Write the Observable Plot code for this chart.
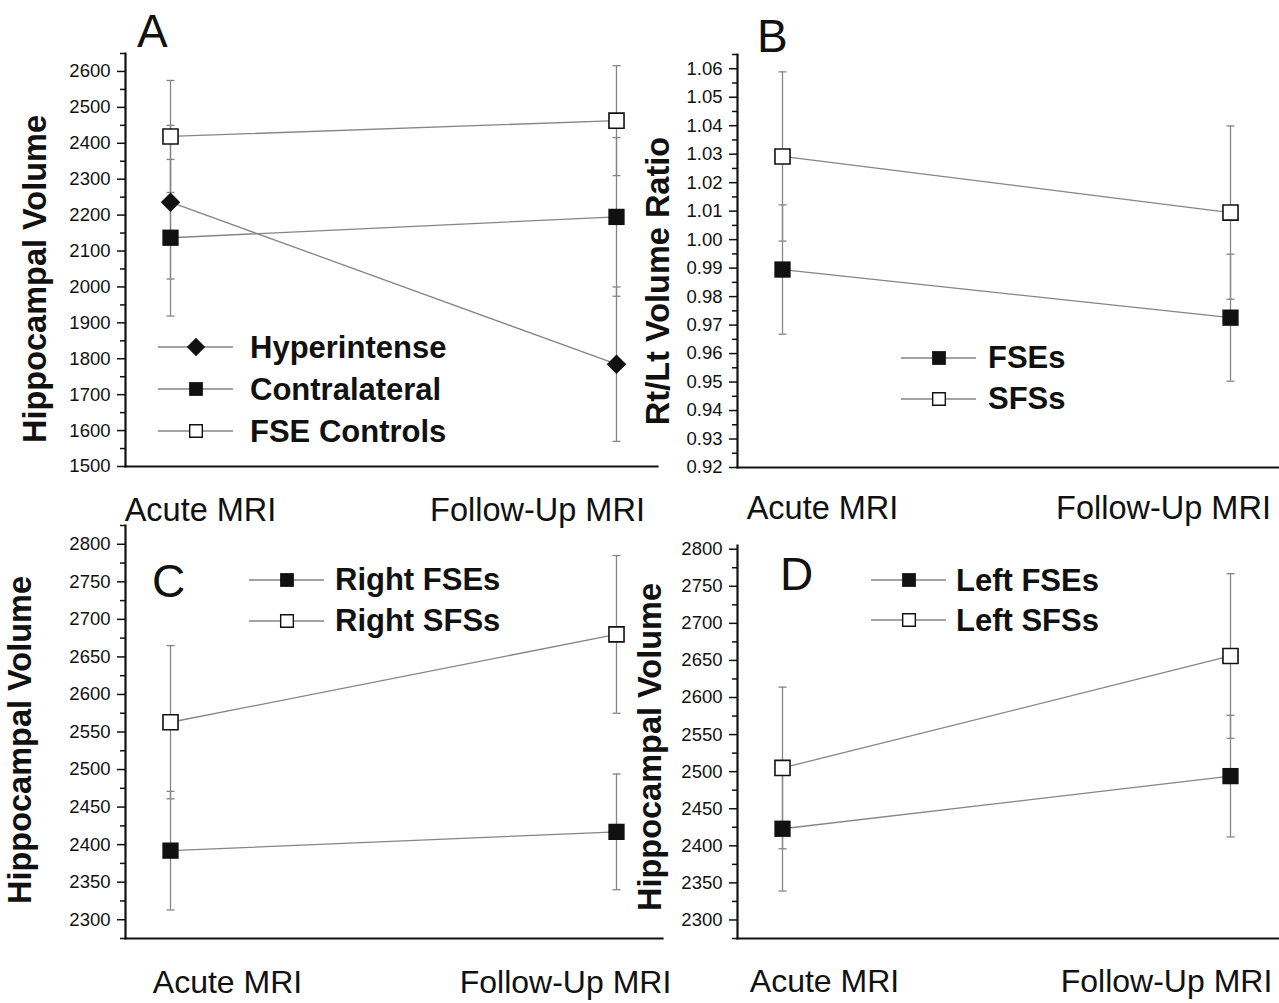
<!DOCTYPE html>
<html>
<head>
<meta charset="utf-8">
<script src="https://cdn.jsdelivr.net/npm/d3@7"></script>
<script src="https://cdn.jsdelivr.net/npm/@observablehq/plot@0.6"></script>
<style>
html, body { margin: 0; padding: 0; background: #fff; }
#root { position: relative; width: 1279px; height: 1003px; overflow: hidden;
  font-family: "Liberation Sans", Arial, Helvetica, sans-serif; color: #111; }
.panel { position: absolute; }
.ylab { position: absolute; font-weight: bold; font-size: 32.5px; line-height: 1; white-space: nowrap;
  transform: translate(-50%, -50%) rotate(-90deg); }
.letter { position: absolute; font-size: 46px; line-height: 1; }
.legend { position: absolute; }
.legrow { display: flex; align-items: center; }
.legrow svg { display: block; flex: none; }
.legrow span { font-weight: bold; font-size: 31px; line-height: 1; white-space: nowrap; }
</style>
</head>
<body>
<div id="root"></div>
<script>
// ---------- data ----------
const timepoints = ["Acute MRI", "Follow-Up MRI"];

// Panel A
const aSeries = ["Hyperintense", "Contralateral", "FSE Controls"];
const aHyperMean = [2236, 1785];
const aHyperErr = [214, 215];
const aContraMean = [2137, 2195];
const aContraErr = [218, 221];
const aControlMean = [2419, 2463];
const aControlErr = [156, 153];
const aTicks = [1500, 1600, 1700, 1800, 1900, 2000, 2100, 2200, 2300, 2400, 2500, 2600];

// Panel B
const bSeries = ["FSEs", "SFSs"];
const bFseMean = [0.9895, 0.9726];
const bFseErr = [0.0227, 0.0223];
const bSfsMean = [1.0292, 1.0095];
const bSfsErr = [0.0297, 0.0304];
const bTicks = [0.92, 0.93, 0.94, 0.95, 0.96, 0.97, 0.98, 0.99, 1.00, 1.01, 1.02, 1.03, 1.04, 1.05, 1.06];

// Panel C
const cSeries = ["Right FSEs", "Right SFSs"];
const cFseMean = [2392, 2417];
const cFseErr = [79, 77];
const cSfsMean = [2563, 2680];
const cSfsErr = [102, 105];

// Panel D
const dSeries = ["Left FSEs", "Left SFSs"];
const dFseMean = [2423, 2494];
const dFseErr = [84, 82];
const dSfsMean = [2505, 2656];
const dSfsErr = [109, 111];

const cdTicks = [2300, 2350, 2400, 2450, 2500, 2550, 2600, 2650, 2700, 2750, 2800];

// ---------- helpers ----------
const GRAY = "#858585";
const INK = "#111";
const root = document.getElementById("root");

function rows(series, means, errs) {
  return timepoints.map((t, i) => ({series, time: t, mean: means[i], err: errs[i]}));
}
function minorTicks(major, half, domain) {
  const out = major.map(v => v + half);
  out.unshift(major[0] - half);
  const eps = half * 1e-6;
  return out.filter(v => v >= domain[0] - eps && v <= domain[1] + eps);
}
const capSymbol = {
  draw(ctx, size) {
    const w = Math.sqrt(size / Math.PI);
    ctx.moveTo(-w, 0);
    ctx.lineTo(w, 0);
  }
};
function markerMarks(data, kind, r) {
  if (kind === "diamond")
    return Plot.dot(data, {x: "time", y: "mean", symbol: "diamond2", r: r.diamond, fill: INK, stroke: "none"});
  if (kind === "filled")
    return Plot.dot(data, {x: "time", y: "mean", symbol: "square", r: r.filled, fill: INK, stroke: "none"});
  return Plot.dot(data, {x: "time", y: "mean", symbol: "square", r: r.open, fill: "white", stroke: INK, strokeWidth: 1.6});
}

function panel(cfg) {
  const all = cfg.groups.flatMap(g => g.data);
  const r = {diamond: 8.8, filled: 9.2, open: 8.5};
  const marks = [
    Plot.line(all, {x: "time", y: "mean", z: "series", stroke: GRAY, strokeWidth: 1.3}),
    Plot.ruleX(all, {x: "time", y1: d => d.mean - d.err, y2: d => d.mean + d.err, stroke: GRAY, strokeWidth: 1.3}),
    Plot.dot(all, {x: "time", y: d => d.mean + d.err, symbol: capSymbol, r: 4, fill: "none", stroke: GRAY, strokeWidth: 1.3}),
    Plot.dot(all, {x: "time", y: d => d.mean - d.err, symbol: capSymbol, r: 4, fill: "none", stroke: GRAY, strokeWidth: 1.3}),
    ...cfg.groups.map(g => markerMarks(g.data, g.kind, r)),
    Plot.axisY(minorTicks(cfg.major, cfg.half, cfg.domain), {tickSize: 5, tickFormat: () => "", label: null, color: INK, strokeWidth: 1.5}),
    Plot.axisY(cfg.major, {tickSize: 8, tickPadding: 7, tickFormat: cfg.fmt, label: null, color: INK,
      strokeWidth: 1.5, fontSize: 18.5}),
    Plot.axisX([timepoints[0]], {tickSize: 0, tickPadding: cfg.labelPad, dx: cfg.dx[0], label: null,
      fontSize: cfg.xFont, color: INK}),
    Plot.axisX([timepoints[1]], {tickSize: 0, tickPadding: cfg.labelPad, dx: cfg.dx[1], label: null,
      fontSize: cfg.xFont, color: INK}),
    Plot.frame({anchor: "left", stroke: INK, strokeWidth: 2.2}),
    Plot.frame({anchor: "bottom", stroke: INK, strokeWidth: 2.2})
  ];
  const svg = Plot.plot({
    width: cfg.width,
    height: cfg.height,
    marginLeft: cfg.marginLeft,
    marginRight: cfg.marginRight,
    marginTop: cfg.marginTop,
    marginBottom: cfg.marginBottom,
    style: {background: "transparent", overflow: "visible", fontFamily: '"Liberation Sans", Arial, sans-serif'},
    x: {type: "point", domain: timepoints, padding: cfg.padding, align: cfg.align, label: null},
    y: {domain: cfg.domain, label: null},
    marks
  });
  const wrap = document.createElement("div");
  wrap.className = "panel";
  wrap.style.left = cfg.left + "px";
  wrap.style.top = cfg.top + "px";
  wrap.appendChild(svg);
  root.appendChild(wrap);
}

function addText(cls, text, left, top) {
  const el = document.createElement("div");
  el.className = cls;
  el.textContent = text;
  el.style.left = left + "px";
  el.style.top = top + "px";
  root.appendChild(el);
}

function legend(items, left, top, rowH, gap) {
  const box = document.createElement("div");
  box.className = "legend";
  box.style.left = left + "px";
  box.style.top = top + "px";
  for (const it of items) {
    const row = document.createElement("div");
    row.className = "legrow";
    row.style.height = rowH + "px";
    const svg = d3.create("svg").attr("width", 75).attr("height", 22).attr("viewBox", "0 -11 75 22");
    svg.append("line").attr("x1", 0).attr("x2", 75).attr("y1", 0).attr("y2", 0)
      .attr("stroke", GRAY).attr("stroke-width", 1.3);
    const g = svg.append("g").attr("transform", "translate(38,0)");
    if (it.kind === "diamond") {
      g.append("path").attr("d", d3.symbol(d3.symbolDiamond2, 215)()).attr("fill", INK);
    } else if (it.kind === "filled") {
      g.append("path").attr("d", d3.symbol(d3.symbolSquare, 190)()).attr("fill", INK);
    } else {
      g.append("path").attr("d", d3.symbol(d3.symbolSquare, 160)()).attr("fill", "white")
        .attr("stroke", INK).attr("stroke-width", 1.4);
    }
    row.appendChild(svg.node());
    const sp = document.createElement("span");
    sp.textContent = it.name;
    sp.style.marginLeft = gap + "px";
    row.appendChild(sp);
    box.appendChild(row);
  }
  root.appendChild(box);
}

// ---------- Panel A ----------
panel({
  left: 0, top: 0, width: 660, height: 530,
  marginLeft: 125, marginRight: 3, marginTop: 53, marginBottom: 64,
  padding: 0.0964, align: 0.523,
  domain: [1500, 2650], major: aTicks, half: 50, fmt: d3.format("d"),
  labelPad: 31, dx: [30, -79], xFont: 32.5,
  groups: [
    {kind: "diamond", data: rows(aSeries[0], aHyperMean, aHyperErr)},
    {kind: "filled", data: rows(aSeries[1], aContraMean, aContraErr)},
    {kind: "open", data: rows(aSeries[2], aControlMean, aControlErr)}
  ]
});

// ---------- Panel B ----------
panel({
  left: 640, top: 0, width: 639, height: 530,
  marginLeft: 97, marginRight: 0, marginTop: 54, marginBottom: 63,
  padding: 0.1049, align: 0.479,
  domain: [0.92, 1.065], major: bTicks, half: 0.005, fmt: d3.format(".2f"),
  labelPad: 28, dx: [40, -67], xFont: 32.5,
  groups: [
    {kind: "filled", data: rows(bSeries[0], bFseMean, bFseErr)},
    {kind: "open", data: rows(bSeries[1], bSfsMean, bSfsErr)}
  ]
});

// ---------- Panel C ----------
panel({
  left: 0, top: 520, width: 662, height: 483,
  marginLeft: 125, marginRight: 0, marginTop: 5, marginBottom: 65,
  padding: 0.102, align: 0.495,
  domain: [2275, 2825], major: cdTicks, half: 25, fmt: d3.format("d"),
  labelPad: 32, dx: [57, -51], xFont: 32,
  groups: [
    {kind: "filled", data: rows(cSeries[0], cFseMean, cFseErr)},
    {kind: "open", data: rows(cSeries[1], cSfsMean, cSfsErr)}
  ]
});

// ---------- Panel D ----------
panel({
  left: 640, top: 520, width: 639, height: 483,
  marginLeft: 97, marginRight: 0, marginTop: 25, marginBottom: 65,
  padding: 0.1049, align: 0.479,
  domain: [2275, 2805], major: cdTicks, half: 25, fmt: d3.format("d"),
  labelPad: 31, dx: [42, -64], xFont: 32,
  groups: [
    {kind: "filled", data: rows(dSeries[0], dFseMean, dFseErr)},
    {kind: "open", data: rows(dSeries[1], dSfsMean, dSfsErr)}
  ]
});

// ---------- axis titles, panel letters ----------
addText("ylab", "Hippocampal Volume", 35, 279);
addText("ylab", "Rt/Lt Volume Ratio", 658, 281);
addText("ylab", "Hippocampal Volume", 20, 740);
addText("ylab", "Hippocampal Volume", 650, 747);

addText("letter", "A", 137, 8);
addText("letter", "B", 757, 13);
addText("letter", "C", 152, 558);
addText("letter", "D", 780, 551);

// ---------- legends ----------
legend([
  {name: aSeries[0], kind: "diamond"},
  {name: aSeries[1], kind: "filled"},
  {name: aSeries[2], kind: "open"}
], 158, 326, 42, 17);
legend([
  {name: bSeries[0], kind: "filled"},
  {name: bSeries[1], kind: "open"}
], 901, 337, 41, 12);
legend([
  {name: cSeries[0], kind: "filled"},
  {name: cSeries[1], kind: "open"}
], 249, 559, 41, 11);
legend([
  {name: dSeries[0], kind: "filled"},
  {name: dSeries[1], kind: "open"}
], 871, 560, 40, 10);
</script>
</body>
</html>
